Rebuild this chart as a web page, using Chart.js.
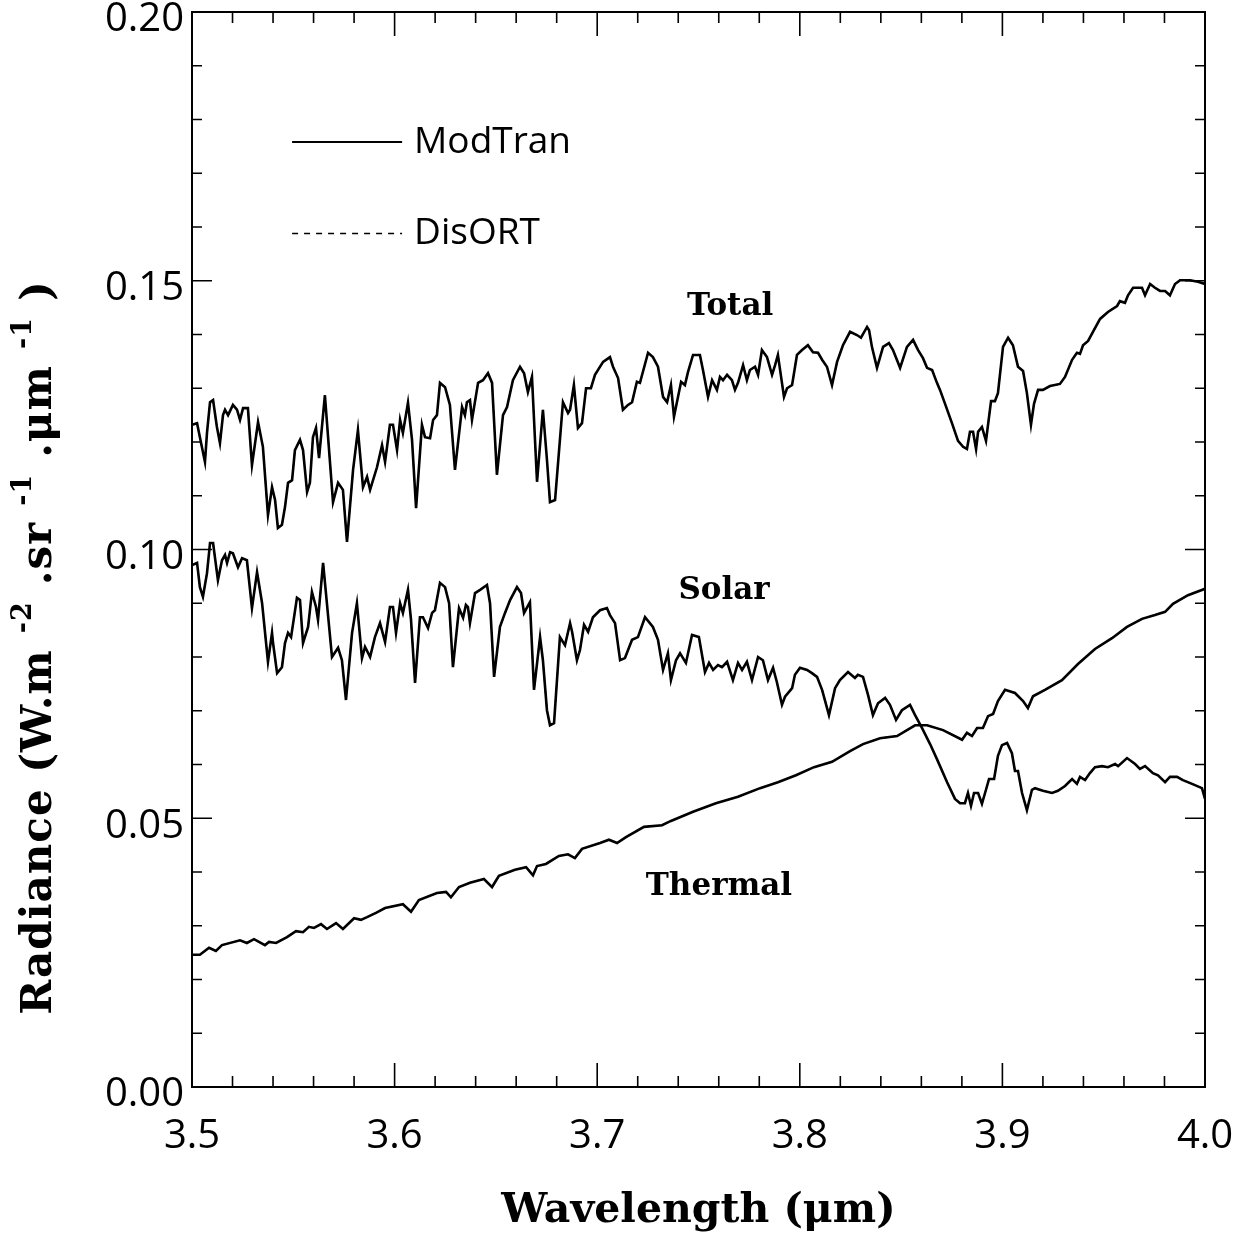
<!DOCTYPE html>
<html>
<head>
<meta charset="utf-8">
<script src="https://cdn.jsdelivr.net/npm/chart.js@4.4.1/dist/chart.umd.min.js"></script>
<style>
  body { margin: 0; background: #fff; }
  canvas { display: block; }
</style>
</head>
<body>
<canvas id="myChart" width="1242" height="1236"></canvas>
<script>
// wavelength (um) and radiance (W m-2 sr-1 um-1)
const wlTotal = [3.5, 3.5025, 3.5039, 3.5064, 3.5074, 3.5089, 3.5104, 3.5123, 3.5138, 3.5153,
  3.5163, 3.5178, 3.5202, 3.5222, 3.5237, 3.5252, 3.5276, 3.5296, 3.5326, 3.5350,
  3.5375, 3.5395, 3.5410, 3.5424, 3.5444, 3.5459, 3.5474, 3.5494, 3.5508, 3.5533,
  3.5548, 3.5568, 3.5582, 3.5597, 3.5612, 3.5627, 3.5656, 3.5696, 3.5721, 3.5745,
  3.5765, 3.5795, 3.5819, 3.5844, 3.5864, 3.5879, 3.5913, 3.5938, 3.5953, 3.5977,
  3.5992, 3.6012, 3.6027, 3.6041, 3.6066, 3.6086, 3.6106, 3.6135, 3.6150, 3.6175,
  3.6190, 3.6209, 3.6224, 3.6249, 3.6273, 3.6298, 3.6333, 3.6347, 3.6357, 3.6372,
  3.6382, 3.6412, 3.6436, 3.6461, 3.6481, 3.6505, 3.6535, 3.6555, 3.6584, 3.6619,
  3.6639, 3.6658, 3.6678, 3.6703, 3.6732, 3.6752, 3.6767, 3.6792, 3.6831, 3.6856,
  3.6866, 3.6885, 3.6905, 3.6925, 3.6945, 3.6969, 3.6989, 3.7029, 3.7063, 3.7078,
  3.7103, 3.7127, 3.7152, 3.7172, 3.7196, 3.7211, 3.7251, 3.7275, 3.7300, 3.7325,
  3.7345, 3.7364, 3.7379, 3.7414, 3.7433, 3.7448, 3.7473, 3.7507, 3.7522, 3.7547,
  3.7567, 3.7591, 3.7606, 3.7621, 3.7641, 3.7665, 3.7680, 3.7695, 3.7720, 3.7739,
  3.7754, 3.7779, 3.7794, 3.7813, 3.7838, 3.7863, 3.7878, 3.7892, 3.7922, 3.7937,
  3.7962, 3.7986, 3.8011, 3.8040, 3.8065, 3.8090, 3.8110, 3.8134, 3.8159, 3.8184,
  3.8213, 3.8248, 3.8282, 3.8302, 3.8332, 3.8342, 3.8356, 3.8381, 3.8411, 3.8440,
  3.8460, 3.8495, 3.8529, 3.8559, 3.8584, 3.8608, 3.8628, 3.8653, 3.8677, 3.8692,
  3.8717, 3.8751, 3.8781, 3.8806, 3.8825, 3.8840, 3.8855, 3.8870, 3.8880, 3.8899,
  3.8919, 3.8944, 3.8963, 3.8978, 3.9003, 3.9028, 3.9052, 3.9077, 3.9102, 3.9121,
  3.9141, 3.9156, 3.9176, 3.9200, 3.9235, 3.9284, 3.9309, 3.9344, 3.9368, 3.9383,
  3.9398, 3.9423, 3.9447, 3.9482, 3.9521, 3.9566, 3.9580, 3.9605, 3.9620, 3.9645,
  3.9689, 3.9704, 3.9729, 3.9753, 3.9778, 3.9803, 3.9827, 3.9852, 3.9877, 3.9926,
  3.9965, 4.0];
const radTotal = [0.1232, 0.1235, 0.1209, 0.1163, 0.1217, 0.1274, 0.1278, 0.1228, 0.1198, 0.1250,
  0.1260, 0.1250, 0.1269, 0.1260, 0.1241, 0.1263, 0.1263, 0.1157, 0.1237, 0.1191,
  0.1064, 0.1116, 0.1092, 0.1040, 0.1046, 0.1079, 0.1124, 0.1129, 0.1185, 0.1204,
  0.1185, 0.1107, 0.1124, 0.1209, 0.1226, 0.1170, 0.1287, 0.1088, 0.1124, 0.1111,
  0.1014, 0.1148, 0.1222, 0.1116, 0.1135, 0.1111, 0.1153, 0.1194, 0.1163, 0.1232,
  0.1232, 0.1185, 0.1241, 0.1217, 0.1273, 0.1204, 0.1077, 0.1232, 0.1209, 0.1207,
  0.1241, 0.1250, 0.1310, 0.1302, 0.1269, 0.1148, 0.1265, 0.1250, 0.1274, 0.1278,
  0.1241, 0.1310, 0.1315, 0.1328, 0.1310, 0.1139, 0.1250, 0.1265, 0.1315, 0.1340,
  0.1328, 0.1293, 0.1321, 0.1126, 0.1260, 0.1167, 0.1088, 0.1092, 0.1274, 0.1254,
  0.1260, 0.1306, 0.1226, 0.1235, 0.1300, 0.1300, 0.1325, 0.1349, 0.1358, 0.1340,
  0.1319, 0.1260, 0.1269, 0.1274, 0.1312, 0.1310, 0.1366, 0.1358, 0.1340, 0.1284,
  0.1274, 0.1306, 0.1247, 0.1312, 0.1306, 0.1330, 0.1362, 0.1362, 0.1334, 0.1284,
  0.1315, 0.1297, 0.1321, 0.1315, 0.1325, 0.1315, 0.1297, 0.1310, 0.1343, 0.1315,
  0.1334, 0.1340, 0.1325, 0.1371, 0.1358, 0.1325, 0.1343, 0.1362, 0.1284, 0.1300,
  0.1306, 0.1362, 0.1371, 0.1380, 0.1367, 0.1366, 0.1353, 0.1340, 0.1306, 0.1349,
  0.1380, 0.1405, 0.1399, 0.1394, 0.1414, 0.1408, 0.1377, 0.1338, 0.1377, 0.1384,
  0.1371, 0.1338, 0.1377, 0.1390, 0.1371, 0.1356, 0.1338, 0.1334, 0.1310, 0.1297,
  0.1271, 0.1235, 0.1202, 0.1191, 0.1187, 0.1219, 0.1219, 0.1187, 0.1219, 0.1228,
  0.1202, 0.1276, 0.1276, 0.1291, 0.1377, 0.1394, 0.1380, 0.1340, 0.1332, 0.1291,
  0.1232, 0.1271, 0.1297, 0.1297, 0.1304, 0.1308, 0.1321, 0.1353, 0.1366, 0.1364,
  0.1380, 0.1388, 0.1405, 0.1429, 0.1442, 0.1453, 0.1462, 0.1459, 0.1473, 0.1487,
  0.1487, 0.1473, 0.1494, 0.1487, 0.1481, 0.1481, 0.1473, 0.1494, 0.1501, 0.1501,
  0.1498, 0.1494];

const wlSolar = [3.5, 3.5025, 3.5039, 3.5054, 3.5074, 3.5089, 3.5104, 3.5128, 3.5148, 3.5163,
  3.5173, 3.5188, 3.5202, 3.5227, 3.5247, 3.5271, 3.5296, 3.5321, 3.5346, 3.5375,
  3.5395, 3.5400, 3.5420, 3.5444, 3.5459, 3.5474, 3.5489, 3.5518, 3.5533, 3.5548,
  3.5573, 3.5592, 3.5612, 3.5622, 3.5647, 3.5691, 3.5721, 3.5740, 3.5760, 3.5790,
  3.5814, 3.5839, 3.5854, 3.5879, 3.5903, 3.5928, 3.5953, 3.5977, 3.5992, 3.6007,
  3.6027, 3.6041, 3.6066, 3.6081, 3.6101, 3.6125, 3.6140, 3.6165, 3.6185, 3.6199,
  3.6224, 3.6249, 3.6269, 3.6288, 3.6318, 3.6338, 3.6352, 3.6362, 3.6372, 3.6397,
  3.6422, 3.6456, 3.6471, 3.6491, 3.6520, 3.6545, 3.6570, 3.6604, 3.6624, 3.6639,
  3.6668, 3.6688, 3.6718, 3.6732, 3.6752, 3.6767, 3.6787, 3.6816, 3.6841, 3.6866,
  3.6876, 3.6900, 3.6915, 3.6935, 3.6955, 3.6979, 3.7014, 3.7048, 3.7063, 3.7088,
  3.7113, 3.7137, 3.7172, 3.7201, 3.7236, 3.7275, 3.7300, 3.7325, 3.7349, 3.7364,
  3.7389, 3.7409, 3.7438, 3.7468, 3.7502, 3.7532, 3.7552, 3.7572, 3.7596, 3.7616,
  3.7641, 3.7670, 3.7695, 3.7715, 3.7739, 3.7764, 3.7794, 3.7818, 3.7843, 3.7868,
  3.7887, 3.7912, 3.7927, 3.7962, 3.7976, 3.8001, 3.8036, 3.8060, 3.8085, 3.8110,
  3.8144, 3.8174, 3.8198, 3.8238, 3.8272, 3.8287, 3.8312, 3.8337, 3.8361, 3.8386,
  3.8421, 3.8445, 3.8475, 3.8504, 3.8544, 3.8569, 3.8603, 3.8643, 3.8677, 3.8727,
  3.8766, 3.8791, 3.8815, 3.8830, 3.8845, 3.8860, 3.8880, 3.8899, 3.8919, 3.8934,
  3.8959, 3.8978, 3.8998, 3.9023, 3.9047, 3.9062, 3.9077, 3.9097, 3.9121, 3.9146,
  3.9161, 3.9200, 3.9245, 3.9274, 3.9309, 3.9344, 3.9368, 3.9383, 3.9408, 3.9432,
  3.9457, 3.9492, 3.9521, 3.9556, 3.9571, 3.9615, 3.9655, 3.9679, 3.9704, 3.9743,
  3.9768, 3.9803, 3.9827, 3.9862, 3.9891, 3.9936, 3.9985, 4.0];
const radSolar = [0.0971, 0.0975, 0.0930, 0.0912, 0.0956, 0.1012, 0.1012, 0.0943, 0.0980, 0.0990,
  0.0975, 0.0995, 0.0993, 0.0967, 0.0984, 0.0980, 0.0891, 0.0958, 0.0900, 0.0791,
  0.0845, 0.0826, 0.0770, 0.0781, 0.0826, 0.0845, 0.0837, 0.0910, 0.0906, 0.0826,
  0.0856, 0.0921, 0.0893, 0.0869, 0.0975, 0.0800, 0.0817, 0.0794, 0.0720, 0.0845,
  0.0900, 0.0798, 0.0819, 0.0800, 0.0837, 0.0863, 0.0828, 0.0893, 0.0893, 0.0845,
  0.0900, 0.0882, 0.0925, 0.0869, 0.0752, 0.0874, 0.0874, 0.0854, 0.0882, 0.0887,
  0.0938, 0.0930, 0.0900, 0.0781, 0.0891, 0.0873, 0.0897, 0.0893, 0.0863, 0.0919,
  0.0925, 0.0934, 0.0900, 0.0763, 0.0856, 0.0882, 0.0906, 0.0930, 0.0919, 0.0882,
  0.0902, 0.0739, 0.0837, 0.0794, 0.0701, 0.0673, 0.0677, 0.0837, 0.0822, 0.0863,
  0.0847, 0.0794, 0.0813, 0.0860, 0.0847, 0.0874, 0.0887, 0.0891, 0.0878, 0.0863,
  0.0794, 0.0798, 0.0832, 0.0837, 0.0874, 0.0856, 0.0832, 0.0776, 0.0807, 0.0757,
  0.0794, 0.0807, 0.0789, 0.0841, 0.0837, 0.0772, 0.0789, 0.0776, 0.0785, 0.0781,
  0.0791, 0.0757, 0.0789, 0.0776, 0.0791, 0.0757, 0.0800, 0.0794, 0.0757, 0.0780,
  0.0753, 0.0711, 0.0726, 0.0742, 0.0767, 0.0780, 0.0776, 0.0770, 0.0763, 0.0739,
  0.0692, 0.0742, 0.0757, 0.0772, 0.0761, 0.0767, 0.0763, 0.0729, 0.0692, 0.0714,
  0.0724, 0.0711, 0.0683, 0.0701, 0.0711, 0.0692, 0.0668, 0.0638, 0.0610, 0.0567,
  0.0536, 0.0528, 0.0528, 0.0547, 0.0523, 0.0547, 0.0547, 0.0527, 0.0553, 0.0573,
  0.0573, 0.0616, 0.0636, 0.0640, 0.0621, 0.0588, 0.0588, 0.0547, 0.0515, 0.0553,
  0.0556, 0.0551, 0.0547, 0.0551, 0.0560, 0.0573, 0.0564, 0.0577, 0.0571, 0.0584,
  0.0595, 0.0597, 0.0595, 0.0601, 0.0597, 0.0612, 0.0601, 0.0592, 0.0597, 0.0584,
  0.0580, 0.0567, 0.0577, 0.0577, 0.0571, 0.0564, 0.0556, 0.0536];

const wlThermal = [3.5, 3.5039, 3.5084, 3.5118, 3.5148, 3.5237, 3.5271, 3.5306, 3.5360, 3.5380,
  3.5415, 3.5469, 3.5513, 3.5548, 3.5577, 3.5602, 3.5637, 3.5666, 3.5711, 3.5745,
  3.5800, 3.5834, 3.5864, 3.5908, 3.5953, 3.6041, 3.6081, 3.6120, 3.6209, 3.6254,
  3.6278, 3.6318, 3.6372, 3.6441, 3.6481, 3.6515, 3.6594, 3.6649, 3.6683, 3.6703,
  3.6747, 3.6811, 3.6856, 3.6890, 3.6925, 3.7014, 3.7058, 3.7098, 3.7142, 3.7231,
  3.7320, 3.7364, 3.7473, 3.7586, 3.7695, 3.7804, 3.7892, 3.7981, 3.8070, 3.8159,
  3.8248, 3.8312, 3.8396, 3.8480, 3.8569, 3.8628, 3.8707, 3.8801, 3.8825, 3.8850,
  3.8875, 3.8904, 3.8929, 3.8954, 3.8978, 3.9013, 3.9062, 3.9102, 3.9126, 3.9151,
  3.9210, 3.9294, 3.9373, 3.9457, 3.9541, 3.9615, 3.9689, 3.9753, 3.9803, 3.9842,
  3.9916, 4.0];
const radThermal = [0.0246, 0.0246, 0.0259, 0.0253, 0.0264, 0.0273, 0.0268, 0.0275, 0.0264, 0.0270,
  0.0268, 0.0279, 0.0290, 0.0288, 0.0298, 0.0296, 0.0303, 0.0294, 0.0305, 0.0294,
  0.0314, 0.0311, 0.0316, 0.0324, 0.0333, 0.0340, 0.0326, 0.0348, 0.0361, 0.0363,
  0.0353, 0.0372, 0.0380, 0.0387, 0.0372, 0.0393, 0.0404, 0.0409, 0.0394, 0.0411,
  0.0415, 0.0430, 0.0433, 0.0426, 0.0443, 0.0454, 0.0460, 0.0454, 0.0465, 0.0484,
  0.0487, 0.0495, 0.0512, 0.0528, 0.0540, 0.0556, 0.0567, 0.0580, 0.0595, 0.0605,
  0.0625, 0.0638, 0.0649, 0.0653, 0.0673, 0.0673, 0.0664, 0.0646, 0.0659, 0.0653,
  0.0668, 0.0668, 0.0690, 0.0694, 0.0718, 0.0739, 0.0733, 0.0718, 0.0705, 0.0727,
  0.0739, 0.0757, 0.0787, 0.0815, 0.0835, 0.0856, 0.0871, 0.0878, 0.0884, 0.0899,
  0.0915, 0.0927];

// the DisORT curves cannot be told apart from ModTran at this scale
const series = [
  { name: 'Total', wl: wlTotal, rad: radTotal },
  { name: 'Solar', wl: wlSolar, rad: radSolar },
  { name: 'Thermal', wl: wlThermal, rad: radThermal },
];

// curve labels and legend anchors, in data units
const curveLabels = [
  { text: 'Total', x: 3.7656, y: 0.1451 },
  { text: 'Solar', x: 3.7626, y: 0.0923 },
  { text: 'Thermal', x: 3.7601, y: 0.0372 },
];
const legendItems = [
  { text: 'ModTran', dash: [], y: 0.1758 },
  { text: 'DisORT', dash: [6, 6], y: 0.1588 },
];
const legendX = [3.5494, 3.6037];

const ctx = document.getElementById('myChart').getContext('2d');
const toPoints = (xs, ys) => xs.map((x, i) => ({ x: x, y: ys[i] }));

const datasets = [];
series.forEach(s => {
  datasets.push({ label: 'ModTran ' + s.name, data: toPoints(s.wl, s.rad),
    borderColor: '#000', borderWidth: 2.6, pointRadius: 0, tension: 0 });
});
series.forEach(s => {
  datasets.push({ label: 'DisORT ' + s.name, data: toPoints(s.wl, s.rad),
    borderColor: '#000', borderWidth: 1.4, borderDash: [6, 6], pointRadius: 0, tension: 0 });
});

const frameAndNotes = {
  id: 'frameAndNotes',
  afterDatasetsDraw(chart) {
    const { ctx, chartArea: a, scales: { x, y } } = chart;
    ctx.save();
    ctx.strokeStyle = '#000';
    ctx.lineWidth = 2;
    ctx.strokeRect(a.left, a.top, a.right - a.left, a.bottom - a.top);

    // inward ticks on all four sides
    ctx.lineWidth = 1.6;
    ctx.beginPath();
    for (let i = 0; i <= 25; i++) {
      const px = x.getPixelForValue(3.5 + i * 0.02);
      const len = i % 5 === 0 ? 24 : 11;
      ctx.moveTo(px, a.bottom); ctx.lineTo(px, a.bottom - len);
      ctx.moveTo(px, a.top); ctx.lineTo(px, a.top + len);
    }
    for (let i = 0; i <= 20; i++) {
      const py = y.getPixelForValue(i * 0.01);
      const len = i % 5 === 0 ? 20 : 10;
      ctx.moveTo(a.left, py); ctx.lineTo(a.left + len, py);
      ctx.moveTo(a.right, py); ctx.lineTo(a.right - len, py);
    }
    ctx.stroke();

    // curve labels
    ctx.fillStyle = '#000';
    ctx.textAlign = 'center';
    ctx.textBaseline = 'middle';
    ctx.font = 'bold 31px "DejaVu Serif"';
    curveLabels.forEach(l => ctx.fillText(l.text, x.getPixelForValue(l.x), y.getPixelForValue(l.y)));

    // legend
    ctx.font = '37px "Open Sans"';
    ctx.textAlign = 'left';
    legendItems.forEach(item => {
      const py = y.getPixelForValue(item.y);
      ctx.lineWidth = item.dash.length ? 1.6 : 2;
      ctx.setLineDash(item.dash);
      ctx.beginPath();
      ctx.moveTo(x.getPixelForValue(legendX[0]), py);
      ctx.lineTo(x.getPixelForValue(legendX[1]), py);
      ctx.stroke();
      ctx.setLineDash([]);
      ctx.fillText(item.text, x.getPixelForValue(legendX[1]) + 12, py);
    });

    // y axis title with superscripts
    const parts = [['Radiance (W.m', 0], ['-2', 1], ['.sr', 0], ['-1', 1], ['.\u03bcm', 0], ['-1', 1], [')', 0]];
    const big = 'bold 42px "DejaVu Serif"', small = 'bold 27px "DejaVu Serif"';
    const gap = 16;
    ctx.letterSpacing = '1px';
    let w = 0;
    parts.forEach(p => { ctx.font = p[1] ? small : big; w += ctx.measureText(p[0]).width + (p[1] ? 2 * gap : 0); });
    ctx.translate(40, (a.top + a.bottom) / 2 + 98);
    ctx.rotate(-Math.PI / 2);
    ctx.textBaseline = 'middle';
    let cx = -w / 2;
    parts.forEach(p => {
      ctx.font = p[1] ? small : big;
      if (p[1]) cx += gap;
      ctx.fillText(p[0], cx, p[1] ? -16 : 0);
      cx += ctx.measureText(p[0]).width + (p[1] ? gap : 0);
    });
    ctx.restore();
  }
};

new Chart(ctx, {
  type: 'line',
  data: { datasets: datasets },
  options: {
    responsive: false,
    devicePixelRatio: 1,
    animation: false,
    layout: { padding: { top: 12, right: 37, left: 0, bottom: 0 } },
    plugins: { legend: { display: false }, tooltip: { enabled: false } },
    scales: {
      x: {
        type: 'linear', min: 3.5, max: 4.0,
        grid: { display: false, drawTicks: false }, border: { display: false },
        ticks: { stepSize: 0.1, color: '#000', padding: 26, font: { family: 'Open Sans', size: 40 },
          callback: v => v.toFixed(1) },
        title: { display: true, text: 'Wavelength (\u03bcm)', color: '#000', padding: { top: 0, bottom: 0 },
          font: { family: 'DejaVu Serif', size: 41, weight: 'bold' } },
        afterFit: s => { s.height = 149; s.paddingLeft = 0; s.paddingRight = 0; }
      },
      y: {
        min: 0, max: 0.2,
        grid: { display: false, drawTicks: false }, border: { display: false },
        ticks: { stepSize: 0.05, color: '#000', padding: 8, labelOffset: 8, font: { family: 'Open Sans', size: 40 },
          callback: v => v.toFixed(2) },
        afterFit: s => { s.width = 192; s.paddingTop = 0; s.paddingBottom = 0; }
      }
    }
  },
  plugins: [frameAndNotes]
});
</script>
</body>
</html>
